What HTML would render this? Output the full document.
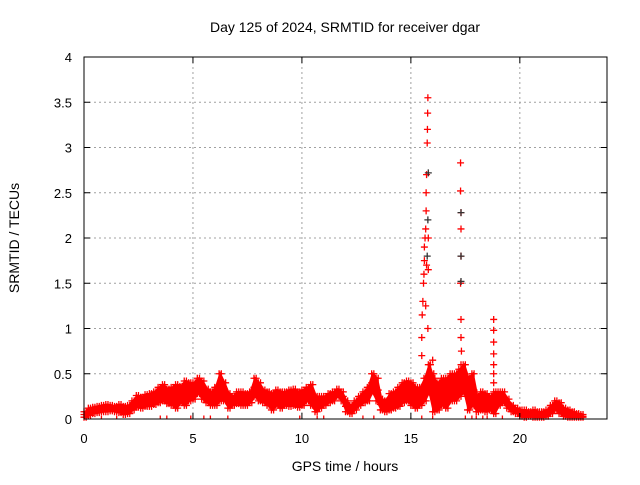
<!DOCTYPE html>
<html><head><meta charset="utf-8"><style>
body{margin:0;background:#fff;}
svg{font-family:"Liberation Sans",sans-serif;}
</style></head><body>
<svg id="chart" width="640" height="480" viewBox="0 0 640 480" xmlns="http://www.w3.org/2000/svg">
<text x="345" y="32" font-size="14" text-anchor="middle">Day 125 of 2024, SRMTID for receiver dgar</text>
<text x="345" y="471" font-size="14" text-anchor="middle">GPS time / hours</text>
<text transform="translate(19,238) rotate(-90)" font-size="14" text-anchor="middle">SRMTID / TECUs</text>
<g id="grid"></g>
<g id="marks"></g>
<g id="axes"></g>
</svg>
<script>
const xTicks=[0,5,10,15,20];
const yTicks=[0,0.5,1,1.5,2,2.5,3,3.5,4];
const yTickLabels=["0","0.5","1","1.5","2","2.5","3","3.5","4"];
const baseStep=0.2;
const hiVals=[0.08,0.12,0.13,0.14,0.15, 0.16,0.15,0.14,0.16,0.14, 0.15,0.2,0.26,0.24,0.27, 0.28,0.3,0.35,0.38,0.33, 0.35,0.38,0.36,0.42,0.4, 0.4,0.45,0.42,0.33,0.3, 0.35,0.5,0.4,0.28,0.25, 0.3,0.3,0.28,0.3,0.45, 0.4,0.32,0.3,0.28,0.32, 0.3,0.3,0.32,0.33,0.3, 0.32,0.35,0.38,0.25,0.25, 0.25,0.28,0.3,0.33,0.3, 0.2,0.15,0.2,0.25,0.3, 0.35,0.5,0.45,0.22,0.2, 0.28,0.3,0.35,0.4,0.42, 0.4,0.35,0.35,0.45,0.6, 0.45,0.4,0.45,0.45,0.5, 0.5,0.55,0.6,0.45,0.5, 0.25,0.3,0.28,0.25,0.3, 0.3,0.3,0.22,0.15,0.12, 0.1,0.1,0.08,0.1,0.08, 0.08,0.1,0.15,0.2,0.18, 0.12,0.1,0.08,0.06,0.05];
const midVals=[0.05,0.08,0.1,0.11,0.12, 0.12,0.12,0.11,0.11,0.1, 0.1,0.15,0.2,0.18,0.2, 0.21,0.23,0.27,0.29,0.25, 0.25,0.25,0.27,0.28,0.3, 0.31,0.37,0.32,0.25,0.22, 0.25,0.35,0.3,0.2,0.2, 0.23,0.22,0.21,0.24,0.35, 0.3,0.25,0.22,0.19,0.23, 0.21,0.22,0.23,0.24,0.21, 0.23,0.27,0.26,0.16,0.18, 0.2,0.23,0.25,0.29,0.25, 0.14,0.1,0.15,0.2,0.24, 0.28,0.4,0.32,0.16,0.14, 0.19,0.21,0.24,0.29,0.31, 0.27,0.23,0.25,0.32,0.45, 0.26,0.25,0.3,0.28,0.35, 0.35,0.4,0.45,0.27,0.32, 0.16,0.2,0.18,0.17,0.18, 0.22,0.24,0.17,0.11,0.09, 0.06,0.06,0.05,0.06,0.05, 0.05,0.06,0.1,0.15,0.12, 0.07,0.06,0.05,0.04,0.03];
const loVals=[0.02,0.04,0.06,0.07,0.08, 0.08,0.09,0.08,0.07,0.05, 0.06,0.1,0.13,0.12,0.14, 0.14,0.16,0.18,0.2,0.17, 0.15,0.12,0.18,0.15,0.2, 0.22,0.28,0.22,0.18,0.15, 0.15,0.2,0.2,0.12,0.15, 0.17,0.15,0.15,0.18,0.25, 0.2,0.18,0.15,0.1,0.15, 0.12,0.15,0.14,0.15,0.13, 0.15,0.2,0.15,0.08,0.12, 0.15,0.18,0.2,0.25,0.2, 0.08,0.06,0.1,0.15,0.18, 0.2,0.3,0.2,0.1,0.08, 0.1,0.12,0.14,0.18,0.2, 0.15,0.12,0.15,0.2,0.3, 0.08,0.1,0.15,0.12,0.2, 0.2,0.25,0.3,0.1,0.15, 0.08,0.1,0.08,0.1,0.06, 0.15,0.18,0.12,0.08,0.06, 0.03,0.02,0.03,0.02,0.02, 0.02,0.03,0.06,0.1,0.06, 0.03,0.02,0.02,0.02,0.02];
const spikeTimes=[15.5,15.5,15.52,15.55,15.58, 15.6,15.62,15.62,15.65,15.68, 15.7,15.7,15.72,15.72,15.68, 15.75,15.76,15.77,15.78, 15.8,15.8,15.78, 16.0,16.05, 17.3,17.32,17.3,17.3,17.28,17.3,17.3,17.3,17.28,17.28, 18.8,18.8,18.8,18.8,18.8,18.8,18.8];
const spikeVals=[0.7,0.9,1.15,1.3,1.5, 1.6,1.75,1.9,2.0,2.1, 2.3,2.5,2.7,1.7,1.25, 3.05,3.2,3.38,3.55, 2.0,1.65,1.0, 0.65,0.5, 0.6,0.75,0.9,1.1,1.5,1.8,2.1,2.28,2.52,2.83, 0.4,0.5,0.6,0.72,0.85,0.98,1.1];
const darkTimes=[15.8,15.78,15.75,17.3,17.3,17.3];
const darkVals=[2.72,2.2,1.8,1.8,1.52,2.28];
const zeroTimes=[0.2,0.8,1.5,3.5,3.8,4.9,5.5,5.8,6.6,9.9,10.7,11.0,12.8,13.3,15.5,16.0,17.5,17.8,18.0,18.3,18.5,19.2,21.0,21.3,22.4];

const L=84,R=607,T=57,B=419,XMAX=24,YMAX=4;
function xs(t){return L+t/XMAX*(R-L);}
function ys(v){return B-v/YMAX*(B-T);}
const NS="http://www.w3.org/2000/svg";
function mk(tag,attrs,parent){const e=document.createElementNS(NS,tag);for(const k in attrs)e.setAttribute(k,attrs[k]);parent.appendChild(e);return e;}
const grid=document.getElementById('grid'),marks=document.getElementById('marks'),axes=document.getElementById('axes');
xTicks.forEach((t,i)=>{
  const x=xs(t);
  if(t>0){const g=mk('line',{x1:x,x2:x,y1:T,y2:B,stroke:'#a0a0a0','stroke-dasharray':'2,3','stroke-width':1},grid);
  
  }
  const tk=mk('path',{d:`M${x},${B}v-6M${x},${T}v6`,stroke:'#000','stroke-width':1},axes);
  
  
  const lb=mk('text',{x:x,y:443,'font-size':13,'text-anchor':'middle'},axes);lb.textContent=String(t);
  
  
});
yTicks.forEach((v,i)=>{
  const y=ys(v);
  if(v>0&&v<YMAX){const g=mk('line',{x1:L,x2:R,y1:y,y2:y,stroke:'#a0a0a0','stroke-dasharray':'2,3','stroke-width':1},grid);
  
  }
  const tk=mk('path',{d:`M${L},${y}h6M${R},${y}h-6`,stroke:'#000','stroke-width':1},axes);
  
  
  const lb=mk('text',{x:72,y:y+5,'font-size':13,'text-anchor':'end'},axes);lb.textContent=yTickLabels[i];
  
  
});
// dense band between low and high envelopes
let d='';
hiVals.forEach((v,i)=>{d+=(i?'L':'M')+xs(i*baseStep+0.05)+','+ys(v);});
for(let i=loVals.length-1;i>=0;i--){d+='L'+xs(i*baseStep+0.05)+','+ys(loVals[i]);}
d+='Z';
const band=mk('path',{d:d,fill:'#ff0000',stroke:'#ff0000','stroke-width':2},marks);


function cross(t,v,color){
  const x=xs(t),y=ys(v);
  const p=mk('path',{d:`M${x-3.5},${y}h7M${x},${y-3.5}v7`,stroke:color,'stroke-width':1.3},marks);
  
  
}
const series=[loVals,midVals,hiVals];
series.forEach(arr=>arr.forEach((v,i)=>{cross(i*baseStep,v,'#ff0000');cross(i*baseStep+0.1,v,'#ff0000');}));
spikeTimes.forEach((t,i)=>cross(t,spikeVals[i],'#ff0000'));
darkTimes.forEach((t,i)=>cross(t,darkVals[i],'#333333'));
const clip=mk('clipPath',{id:'clp'},marks);
mk('rect',{x:L,y:T,width:R-L,height:B-T},clip);
zeroTimes.forEach(t=>{
  const x=xs(t);
  const p=mk('path',{d:`M${x},${B-3.5}v7`,stroke:'#ff0000','stroke-width':1.3,'clip-path':'url(#clp)'},marks);
  
  
});
const border=mk('rect',{x:L,y:T,width:R-L,height:B-T,fill:'none',stroke:'#000','stroke-width':1},axes);


</script>
</body></html>
